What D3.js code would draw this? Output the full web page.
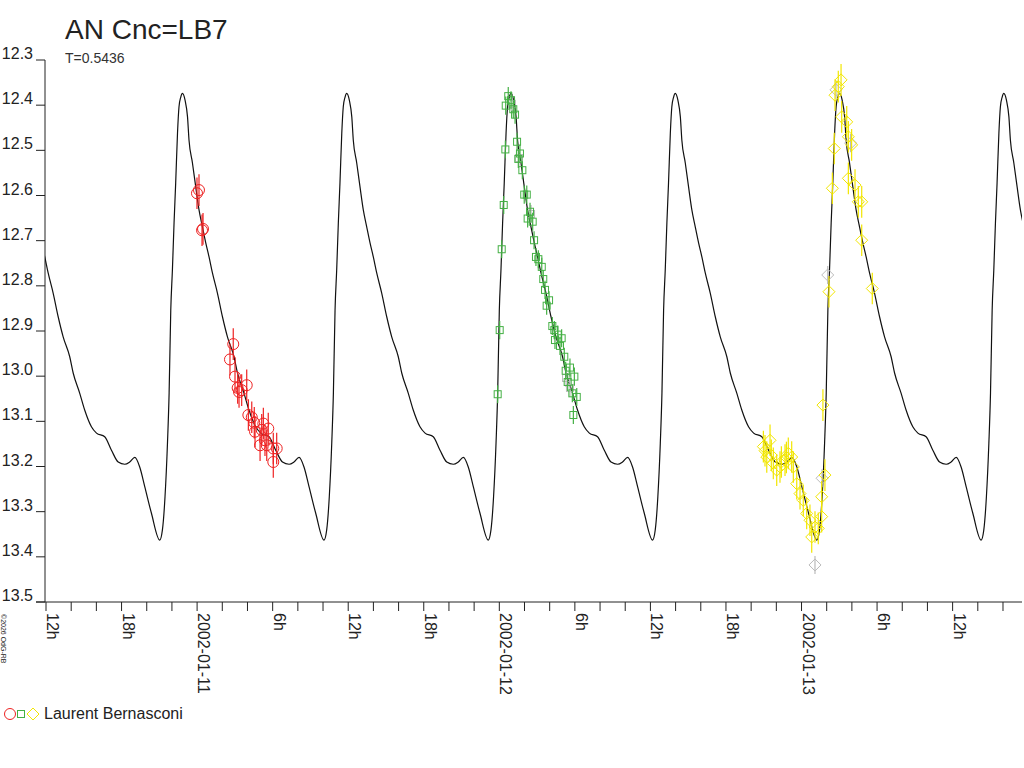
<!DOCTYPE html>
<html>
<head>
<meta charset="utf-8">
<script src="https://cdn.jsdelivr.net/npm/d3@7"></script>
<style>
  body { margin: 0; background: #fff; }
  svg { font-family: "Liberation Sans", Arial, sans-serif; }
</style>
</head>
<body>
<svg id="chart" width="1024" height="768"></svg>
<script>
// Hours since 2002-01-11 00:00 UT, magnitudes
var redHours = [-0.01, 0.15, 0.39, 0.47, 2.87, 2.61, 3.01, 3.22, 3.94, 3.54, 3.33, 4.07, 4.34, 4.54, 5.26, 5.65, 4.60, 5.13, 5.00, 5.53, 6.05, 6.32, 6.05, 5.39];
var redMags = [12.595, 12.588, 12.677, 12.674, 12.929, 12.963, 13.001, 13.026, 13.020, 13.031, 13.035, 13.086, 13.091, 13.103, 13.105, 13.116, 13.123, 13.119, 13.153, 13.153, 13.160, 13.160, 13.190, 13.142];

var greenHours = [24.71, 24.51, 24.93, 25.11, 25.25, 25.41, 25.64, 25.51, 25.83, 24.48, 24.35, 24.19, 25.98, 26.18, 26.44, 26.25, 26.65, 26.76, 26.91, 27.10, 24.03, 23.87, 27.37, 27.49, 27.63, 27.95, 27.76, 28.21, 28.37, 28.64, 28.95, 28.42, 28.82, 29.16, 29.61, 29.27, 29.96, 29.43, 29.80, 30.15, 29.88];
var greenMags = [12.380, 12.401, 12.389, 12.409, 12.421, 12.481, 12.507, 12.519, 12.544, 12.498, 12.621, 12.719, 12.598, 12.598, 12.636, 12.651, 12.658, 12.699, 12.736, 12.741, 12.898, 13.040, 12.758, 12.785, 12.809, 12.832, 12.844, 12.889, 12.898, 12.908, 12.916, 12.920, 12.933, 12.957, 12.981, 12.988, 13.001, 13.013, 13.038, 13.046, 13.086];

var yellowHours = [44.97, 45.24, 45.50, 45.76, 46.03, 46.29, 46.69, 46.95, 47.22, 47.35, 47.62, 47.88, 48.14, 48.41, 48.67, 48.81, 49.07, 49.33, 49.60, 49.60, 49.86, 49.70, 50.18, 50.45, 50.60, 50.66, 50.92, 51.14, 51.19, 51.59, 51.72, 51.98, 51.72, 52.25, 52.51, 52.78, 52.78, 53.62, 45.10, 45.60, 46.40, 46.80];
var yellowMags = [13.156, 13.179, 13.142, 13.193, 13.208, 13.201, 13.186, 13.171, 13.179, 13.201, 13.238, 13.260, 13.275, 13.304, 13.319, 13.356, 13.334, 13.337, 13.311, 13.267, 13.219, 13.064, 12.813, 12.584, 12.496, 12.378, 12.359, 12.344, 12.426, 12.437, 12.470, 12.488, 12.562, 12.577, 12.614, 12.614, 12.699, 12.806, 13.165, 13.175, 13.190, 13.180];

var grayHours = [25.00, 25.56, 26.52, 29.30, 29.61, 49.07, 49.63, 50.08, 50.74, 51.90];
var grayMags = [12.397, 12.517, 12.641, 13.004, 13.026, 13.418, 13.226, 12.776, 12.366, 12.484];
var graySymbols = ['square', 'square', 'square', 'square', 'square', 'diamond', 'diamond', 'diamond', 'diamond', 'diamond'];

// Light curve template over one cycle (phase from minimum), ephemeris
var periodHours = 0.5436 * 24;
var minEpochHours = 10.08;
var tmplPhase = [0, 0.016, 0.032, 0.047, 0.057, 0.067, 0.077, 0.087, 0.097, 0.108, 0.117, 0.128, 0.138, 0.154, 0.169, 0.178, 0.199, 0.219, 0.239, 0.260, 0.280, 0.300, 0.321, 0.351, 0.382, 0.412, 0.452, 0.473, 0.513, 0.543, 0.584, 0.615, 0.665, 0.706, 0.747, 0.787, 0.817, 0.848, 0.878, 0.909, 0.949, 1];
var tmplMag = [13.363, 13.341, 13.267, 13.148, 13.037, 12.854, 12.765, 12.661, 12.572, 12.462, 12.404, 12.382, 12.374, 12.389, 12.426, 12.477, 12.528, 12.581, 12.632, 12.670, 12.705, 12.736, 12.772, 12.816, 12.869, 12.913, 12.957, 12.993, 13.038, 13.075, 13.112, 13.126, 13.134, 13.164, 13.190, 13.195, 13.190, 13.180, 13.201, 13.245, 13.303, 13.363];

var yTicks = [12.3, 12.4, 12.5, 12.6, 12.7, 12.8, 12.9, 13.0, 13.1, 13.2, 13.3, 13.4, 13.5];
var dayLabels = ['2002-01-11', '2002-01-12', '2002-01-13'];

var svg = d3.select('#chart');
var x = d3.scaleLinear().domain([-12.08, 65.51]).range([45, 1022]);
var y = d3.scaleLinear().domain([12.3, 13.5]).range([60, 602]);

// title
svg.append('text').attr('x', 65).attr('y', 39).attr('font-size', 28).attr('fill', '#222').text('AN Cnc=LB7');
svg.append('text').attr('x', 65).attr('y', 63).attr('font-size', 14).attr('fill', '#333').text('T=0.5436');

// y axis
svg.append('line').attr('x1', 45).attr('x2', 45).attr('y1', 60).attr('y2', 602).attr('stroke', '#222');
yTicks.forEach(function (t) {
  svg.append('line').attr('x1', 36).attr('x2', 45).attr('y1', y(t)).attr('y2', y(t)).attr('stroke', '#222');
  svg.append('text').attr('x', 33).attr('y', y(t) - 1).attr('text-anchor', 'end')
    .attr('font-size', 16).attr('fill', '#222').text(t.toFixed(1));
});

// x axis
svg.append('line').attr('x1', 36).attr('x2', 1022).attr('y1', 602).attr('y2', 602).attr('stroke', '#222');
d3.range(-12, 66, 2).forEach(function (h) {
  svg.append('line').attr('x1', x(h)).attr('x2', x(h)).attr('y1', 602).attr('y2', 611).attr('stroke', '#222');
  if (h % 6 === 0) {
    var hod = ((h % 24) + 24) % 24;
    var lab = hod === 0 ? dayLabels[Math.floor(h / 24)] : hod + 'h';
    svg.append('text').attr('transform', 'translate(' + (x(h) + 1) + ',613) rotate(90)')
      .attr('font-size', 16).attr('fill', '#222').text(lab);
  }
});
svg.append('text').attr('transform', 'translate(1,614) rotate(90)').attr('font-size', 7)
  .attr('fill', '#222').text('©2026 OdG-RB');

// light curve
svg.append('clipPath').attr('id', 'clip').append('rect').attr('x', 45).attr('y', 40).attr('width', 977).attr('height', 562);
var curve = [];
d3.range(-2, 6).forEach(function (k) {
  tmplPhase.forEach(function (p, i) {
    curve.push([minEpochHours + (k + p) * periodHours, tmplMag[i]]);
  });
});
svg.append('path').datum(curve).attr('clip-path', 'url(#clip)')
  .attr('d', d3.line().x(function (d) { return x(d[0]); }).y(function (d) { return y(d[1]); }).curve(d3.curveMonotoneX))
  .attr('fill', 'none').attr('stroke', '#111').attr('stroke-width', 1.2);

function symbol(g, kind, cx, cy, color) {
  if (kind === 'circle') g.append('circle').attr('cx', cx).attr('cy', cy).attr('r', 5.5);
  else if (kind === 'square') g.append('rect').attr('x', cx - 3.5).attr('y', cy - 3.5).attr('width', 7).attr('height', 7);
  else g.append('path').attr('d', 'M' + cx + ',' + (cy - 6) + 'L' + (cx + 6) + ',' + cy + 'L' + cx + ',' + (cy + 6) + 'L' + (cx - 6) + ',' + cy + 'Z');
  g.selectAll('*').attr('fill', 'none').attr('stroke', color);
}

function drawSeries(hours, mags, kinds, color, err) {
  hours.forEach(function (h, i) {
    var g = svg.append('g');
    g.append('line').attr('x1', x(h)).attr('x2', x(h)).attr('y1', y(mags[i] - err)).attr('y2', y(mags[i] + err))
      .attr('stroke', color).attr('stroke-width', 1.2);
    symbol(g, typeof kinds === 'string' ? kinds : kinds[i], x(h), y(mags[i]), color);
  });
}
drawSeries(grayHours, grayMags, graySymbols, '#bbbbbb', 0.02);
drawSeries(redHours, redMags, 'circle', '#ee2222', 0.035);
drawSeries(greenHours, greenMags, 'square', '#44b044', 0.02);
drawSeries(yellowHours, yellowMags, 'diamond', '#f2e600', 0.035);

// legend
var lg = svg.append('g');
symbol(lg.append('g'), 'circle', 10, 714, '#ee2222');
symbol(lg.append('g'), 'square', 21, 714, '#44b044');
symbol(lg.append('g'), 'diamond', 33, 714, '#f2e600');
svg.append('text').attr('x', 44).attr('y', 719).attr('font-size', 16).attr('fill', '#222').text('Laurent Bernasconi');
</script>
</body>
</html>
